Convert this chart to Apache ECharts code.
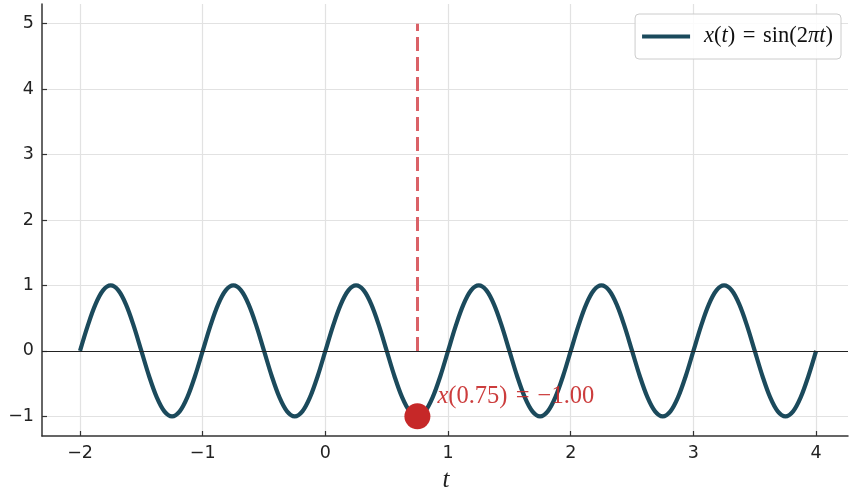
<!DOCTYPE html>
<html>
<head>
<meta charset="utf-8">
<script src="https://cdn.jsdelivr.net/npm/echarts@6/dist/echarts.min.js"></script>
<style>
  html, body { margin: 0; padding: 0; background: #fff; }
  #chart { width: 849px; height: 490px; }
</style>
</head>
<body>
<div id="chart"></div>
<script>
// Sampled signal x(t) = sin(2πt), one sample every 1/16 s
const tValues = [
  -2, -1.9375, -1.875, -1.8125, -1.75, -1.6875, -1.625, -1.5625, -1.5, -1.4375, -1.375, -1.3125, -1.25, -1.1875, -1.125, -1.0625,
  -1, -0.9375, -0.875, -0.8125, -0.75, -0.6875, -0.625, -0.5625, -0.5, -0.4375, -0.375, -0.3125, -0.25, -0.1875, -0.125, -0.0625,
  0, 0.0625, 0.125, 0.1875, 0.25, 0.3125, 0.375, 0.4375, 0.5, 0.5625, 0.625, 0.6875, 0.75, 0.8125, 0.875, 0.9375,
  1, 1.0625, 1.125, 1.1875, 1.25, 1.3125, 1.375, 1.4375, 1.5, 1.5625, 1.625, 1.6875, 1.75, 1.8125, 1.875, 1.9375,
  2, 2.0625, 2.125, 2.1875, 2.25, 2.3125, 2.375, 2.4375, 2.5, 2.5625, 2.625, 2.6875, 2.75, 2.8125, 2.875, 2.9375,
  3, 3.0625, 3.125, 3.1875, 3.25, 3.3125, 3.375, 3.4375, 3.5, 3.5625, 3.625, 3.6875, 3.75, 3.8125, 3.875, 3.9375,
  4
];
const xValues = [
  0, 0.383, 0.707, 0.924, 1, 0.924, 0.707, 0.383, 0, -0.383, -0.707, -0.924, -1, -0.924, -0.707, -0.383,
  0, 0.383, 0.707, 0.924, 1, 0.924, 0.707, 0.383, 0, -0.383, -0.707, -0.924, -1, -0.924, -0.707, -0.383,
  0, 0.383, 0.707, 0.924, 1, 0.924, 0.707, 0.383, 0, -0.383, -0.707, -0.924, -1, -0.924, -0.707, -0.383,
  0, 0.383, 0.707, 0.924, 1, 0.924, 0.707, 0.383, 0, -0.383, -0.707, -0.924, -1, -0.924, -0.707, -0.383,
  0, 0.383, 0.707, 0.924, 1, 0.924, 0.707, 0.383, 0, -0.383, -0.707, -0.924, -1, -0.924, -0.707, -0.383,
  0, 0.383, 0.707, 0.924, 1, 0.924, 0.707, 0.383, 0, -0.383, -0.707, -0.924, -1, -0.924, -0.707, -0.383,
  0
];

// Highlighted sample
const markT = 0.75;
const markX = -1.00;
const markTop = 5;

const xTicks = [-2, -1, 0, 1, 2, 3, 4];
const yTicks = [-1, 0, 1, 2, 3, 4, 5];

const curveColor = '#1b4a5c';
const markColor = '#c62828';
const tickFont = 'DejaVu Sans';
const mathFont = 'Liberation Serif';

const fmt = v => String(v).replace('-', '\u2212');
const sp = '\u2004';

const chart = echarts.init(document.getElementById('chart'), null, { renderer: 'canvas' });

chart.setOption({
  animation: false,
  backgroundColor: '#ffffff',
  grid: { left: 42, right: 1, top: 4, bottom: 54, containLabel: false, outerBoundsMode: 'none' },
  graphic: [
    {
      // x-axis title, italic t
      type: 'text',
      x: 446,
      y: 480,
      style: {
        text: 't',
        fontFamily: mathFont,
        fontStyle: 'italic',
        fontSize: 25,
        fill: '#222',
        align: 'center',
        verticalAlign: 'middle'
      }
    }
  ],
  legend: {
    top: 14,
    right: 8,
    padding: [11, 8, 11, 7],
    backgroundColor: 'rgba(255,255,255,0.85)',
    borderColor: '#cccccc',
    borderWidth: 1,
    borderRadius: 4,
    icon: 'rect',
    itemWidth: 48,
    itemHeight: 4,
    data: ['signal'],
    formatter: () => '{i|x}{r|(}{i|t}{r|)' + sp + '=' + sp + 'sin(2}{i|\u03c0t}{r|)}',
    textStyle: {
      padding: [0, 0, 0, 9],
      rich: {
        i: { fontFamily: mathFont, fontStyle: 'italic', fontSize: 22.5, color: '#111' },
        r: { fontFamily: mathFont, fontSize: 22.5, color: '#111' }
      }
    }
  },
  xAxis: {
    type: 'value',
    min: -2.31,
    max: 4.26,
    interval: 1,
    axisLine: { onZero: false, lineStyle: { color: '#333', width: 1.5 } },
    axisTick: { show: true, inside: true, length: 5, lineStyle: { color: '#333', width: 1.2 }, customValues: xTicks },
    axisLabel: { fontFamily: tickFont, fontSize: 17.5, color: '#222', margin: 8, customValues: xTicks, formatter: fmt },
    splitLine: { show: true, lineStyle: { color: '#e2e2e2', width: 1.2 } }
  },
  yAxis: {
    type: 'value',
    min: -1.3,
    max: 5.3,
    axisLine: { show: true, onZero: false, lineStyle: { color: '#333', width: 1.5 } },
    axisTick: { show: true, inside: true, length: 5, lineStyle: { color: '#333', width: 1.2 }, customValues: yTicks },
    axisLabel: { fontFamily: tickFont, fontSize: 17.5, color: '#222', margin: 8, customValues: yTicks, formatter: fmt },
    splitLine: { show: true, lineStyle: { color: '#e2e2e2', width: 1.2 } }
  },
  series: [
    {
      // reference lines: zero baseline and marker for the highlighted sample
      type: 'line',
      data: [],
      silent: true,
      markLine: {
        silent: true,
        symbol: 'none',
        label: { show: false },
        data: [
          [
            { coord: [-2.31, 0], lineStyle: { color: '#222', width: 1, type: 'solid' } },
            { coord: [4.26, 0] }
          ],
          [
            { coord: [markT, 0], lineStyle: { color: '#da6167', width: 3, type: [14, 6] } },
            { coord: [markT, markTop] }
          ]
        ]
      },
      z: 1
    },
    {
      name: 'signal',
      type: 'line',
      data: tValues.map((t, i) => [t, xValues[i]]),
      smooth: 0.35,
      showSymbol: false,
      lineStyle: { color: curveColor, width: 4.2 },
      itemStyle: { color: curveColor },
      z: 3
    },
    {
      type: 'scatter',
      data: [[markT, markX]],
      symbolSize: 26,
      itemStyle: { color: markColor, opacity: 1 },
      label: {
        show: true,
        position: 'right',
        distance: 7,
        offset: [0, -20],
        formatter: () => '{i|x}{r|(0.75)' + sp + '=' + sp + '\u22121.00}',
        rich: {
          i: { fontFamily: mathFont, fontStyle: 'italic', fontSize: 24.5, color: 'rgba(198,40,40,0.9)' },
          r: { fontFamily: mathFont, fontSize: 24.5, color: 'rgba(198,40,40,0.9)' }
        }
      },
      z: 5
    }
  ]
});
</script>
</body>
</html>
